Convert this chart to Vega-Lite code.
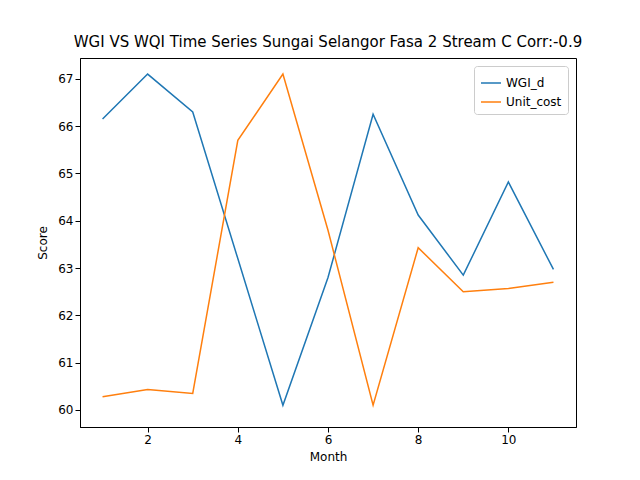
{
  "$schema": "https://vega.github.io/schema/vega-lite/v6.json",
  "width": 496,
  "height": 369,
  "autosize": "none",
  "padding": {"left": 80, "top": 58, "right": 64, "bottom": 53},
  "background": "white",
  "title": {"text": "WGI VS WQI Time Series Sungai Selangor Fasa 2 Stream C Corr:-0.9", "font": "DejaVu Sans", "fontSize": 15, "fontWeight": "normal", "offset": 8},
  "config": {"view": {"stroke": "black"}, "axis": {"labelFont": "DejaVu Sans", "titleFont": "DejaVu Sans", "labelFontSize": 12, "titleFontSize": 12, "titleFontWeight": "normal", "grid": false, "domainColor": "black", "tickColor": "black", "labelColor": "black"}},
  "data": {"values": [
    {"m":1,"s":"WGI_d","v":66.15},{"m":2,"s":"WGI_d","v":67.1},{"m":3,"s":"WGI_d","v":66.3},{"m":4,"s":"WGI_d","v":63.2},{"m":5,"s":"WGI_d","v":60.1},{"m":6,"s":"WGI_d","v":62.8},{"m":7,"s":"WGI_d","v":66.25},{"m":8,"s":"WGI_d","v":64.12},{"m":9,"s":"WGI_d","v":62.85},{"m":10,"s":"WGI_d","v":64.82},{"m":11,"s":"WGI_d","v":62.97},
    {"m":1,"s":"Unit_cost","v":60.28},{"m":2,"s":"Unit_cost","v":60.43},{"m":3,"s":"Unit_cost","v":60.35},{"m":4,"s":"Unit_cost","v":65.7},{"m":5,"s":"Unit_cost","v":67.1},{"m":6,"s":"Unit_cost","v":63.8},{"m":7,"s":"Unit_cost","v":60.1},{"m":8,"s":"Unit_cost","v":63.43},{"m":9,"s":"Unit_cost","v":62.5},{"m":10,"s":"Unit_cost","v":62.57},{"m":11,"s":"Unit_cost","v":62.7}
  ]},
  "mark": {"type": "line", "strokeWidth": 1.5},
  "encoding": {
    "x": {"field": "m", "type": "quantitative", "title": "Month", "scale": {"domain": [0.5, 11.5], "nice": false, "zero": false}, "axis": {"values": [2,4,6,8,10], "titlePadding": 6}},
    "y": {"field": "v", "type": "quantitative", "title": "Score", "scale": {"domain": [59.64, 67.44], "nice": false, "zero": false}, "axis": {"values": [60,61,62,63,64,65,66,67], "titlePadding": 8}},
    "color": {"field": "s", "type": "nominal", "sort": ["WGI_d", "Unit_cost"], "scale": {"domain": ["WGI_d", "Unit_cost"], "range": ["#1f77b4", "#ff7f0e"]},
      "legend": {"title": null, "orient": "top-right", "symbolType": "stroke", "symbolSize": 400, "symbolStrokeWidth": 1.5, "labelFont": "DejaVu Sans", "labelFontSize": 12, "strokeColor": "#cccccc", "fillColor": "white", "padding": 6, "cornerRadius": 3, "offset": 8}}
  }
}
